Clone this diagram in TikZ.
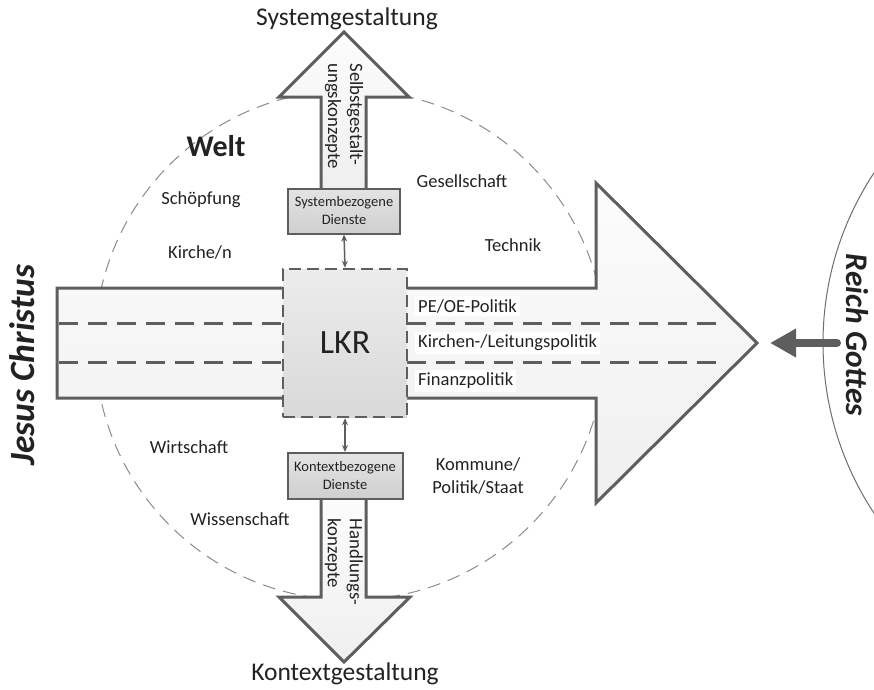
\documentclass[tikz,border=0pt]{standalone}
\usepackage{fontspec}
\setmainfont{Carlito}
\usetikzlibrary{arrows.meta}
\definecolor{strokegray}{HTML}{5E5E5E}
\definecolor{txt}{HTML}{222222}
\definecolor{circgray}{HTML}{8C8C8C}
\definecolor{arrowfillA}{HTML}{FCFCFC}
\definecolor{arrowfillB}{HTML}{EFEFEF}
\definecolor{boxA}{HTML}{E4E4E4}
\definecolor{boxB}{HTML}{CFCFCF}
\tikzset{
  bigarrow/.style={draw=strokegray, line width=3pt, line join=miter, top color=arrowfillA, bottom color=arrowfillB},
  innerdash/.style={draw=strokegray, line width=3pt, dash pattern=on 19pt off 10pt},
  weltcircle/.style={draw=circgray, line width=1pt, dash pattern=on 13pt off 8pt},
  dienstbox/.style={draw=strokegray, line width=2pt, top color=boxA, bottom color=boxB, minimum width=112pt, minimum height=45pt, align=center, inner sep=1pt, font=\fontsize{14.5}{18}\selectfont, text=txt},
  lkrbox/.style={draw=strokegray, line width=2.5pt, dash pattern=on 12pt off 6pt, top color=boxA!70!white, bottom color=boxB!80!white, minimum width=124pt, minimum height=148pt, font=\fontsize{34}{40}\selectfont, text=txt},
  lbl/.style={font=\fontsize{18.5}{23}\selectfont, text=txt, align=center, inner sep=1pt},
  politik/.style={font=\fontsize{18.5}{23}\selectfont, text=txt, fill=white, anchor=west, inner sep=3pt},
  biglbl/.style={font=\fontsize{25.5}{30}\selectfont, text=txt, inner sep=1pt},
  sidelbl/.style={font=\bfseries\itshape\fontsize{35.5}{40}\selectfont, text=txt, inner sep=1pt},
  vtext/.style={font=\fontsize{18.8}{22}\selectfont, text=txt, align=left, rotate=-90, inner sep=1pt},
  dblarrow/.style={draw=strokegray, line width=1.5pt, {Stealth[length=7pt,width=6pt]}-{Stealth[length=7pt,width=6pt]}},
  gotteshand/.style={draw=strokegray, line width=8pt, line cap=round, -{Triangle[length=26pt,width=27pt]}}
}
\begin{document}
\begin{tikzpicture}[x=1pt,y=-1pt]
\useasboundingbox (0,0) rectangle (874,689);
\fill[white] (0,0) rectangle (874,689);

% Welt circle
\draw[weltcircle] (350,345) circle[radius=255pt];

% Reich Gottes arc
\begin{scope}
\clip (0,0) rectangle (874,689);
\draw[draw=strokegray!90, line width=1pt] (1132,343) circle[radius=309pt];
\end{scope}

% main arrow
\draw[bigarrow] (57,288) -- (596,288) -- (596,183) -- (757,343) -- (596,503) -- (596,398) -- (57,398) -- cycle;
\draw[innerdash] (59,323) -- (723,323);
\draw[innerdash] (59,362) -- (723,362);

% top arrow
\draw[bigarrow] (321,190) -- (321,97) -- (279,97) -- (344,32) -- (409,97) -- (366,97) -- (366,190);
% bottom arrow
\draw[bigarrow] (321,499) -- (321,597) -- (279,597) -- (344,662) -- (410,597) -- (366,597) -- (366,499);

% boxes
\node[lkrbox] (lkr) at (345,343) {LKR};
\node[dienstbox] (sysbox) at (344,211) {Systembezogene\\Dienste};
\node[dienstbox, minimum width=115pt, minimum height=46pt] (kontbox) at (345,476) {Kontextbezogene\\Dienste};

\draw[dblarrow] (sysbox.south) -- (lkr.north);
\draw[dblarrow] (lkr.south) -- (kontbox.north);

% arrow texts
\node[vtext] (selbst) at (344,116) {Selbstgestalt-\\ungskonzepte};
\node[vtext] (handl) at (344,562) {Handlungs-\\konzepte};

% politik labels
\node[politik] (peoe) at (415,306) {PE/OE-Politik};
\node[politik] (kirlei) at (415,343) {Kirchen-/Leitungspolitik};
\node[politik] (finanz) at (415,381) {Finanzpolitik};

% top / bottom labels
\node[biglbl] (sysgest) at (347,19) {Systemgestaltung};
\node[biglbl] (kontgest) at (345,674) {Kontextgestaltung};

% Welt labels
\node[lbl, font=\bfseries\fontsize{30}{34}\selectfont] (welt) at (216,146) {Welt};
\node[lbl] (schoepf) at (201,200) {Schöpfung};
\node[lbl] (kirche) at (200,252) {Kirche/n};
\node[lbl] (gesell) at (462,181) {Gesellschaft};
\node[lbl] (technik) at (513,245) {Technik};
\node[lbl] (wirtsch) at (189,447) {Wirtschaft};
\node[lbl] (wissen) at (240,519) {Wissenschaft};
\node[lbl] (kommune) at (478,476) {Kommune/\\Politik/Staat};

% side labels
\node[sidelbl, rotate=90] (jesus) at (22,365) {Jesus Christus};
\node[sidelbl, rotate=-90, font=\bfseries\itshape\fontsize{31.5}{36}\selectfont] (reich) at (857,335) {Reich Gottes};

% arrow from Reich Gottes
\coordinate (rgtail) at (837,343);
\coordinate (rgtip) at (770,343);
\draw[gotteshand] (rgtail) -- (rgtip);
\end{tikzpicture}
\end{document}
